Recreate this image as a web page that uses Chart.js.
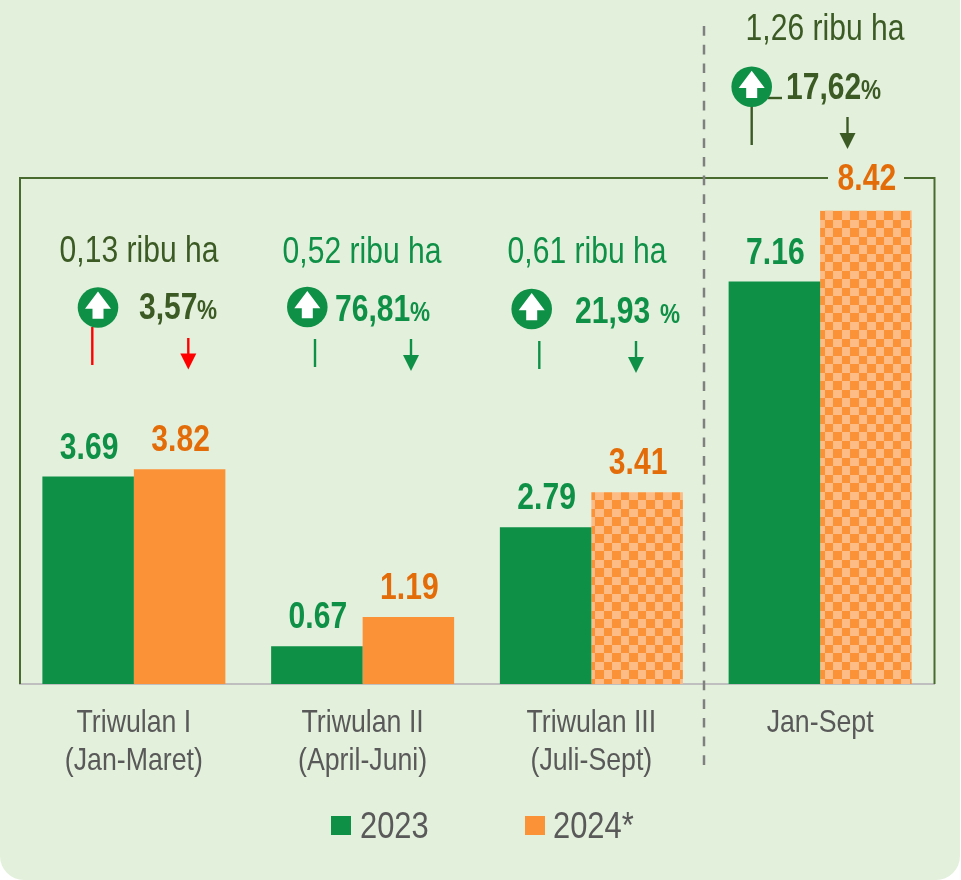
<!DOCTYPE html>
<html>
<head>
<meta charset="utf-8">
<style>
html,body{margin:0;padding:0;background:#fff}
#panel{position:relative;width:960px;height:880px;background:#E3F0DC;border-radius:0 0 24px 24px;overflow:hidden}
canvas{display:block}
</style>
<script src="https://cdn.jsdelivr.net/npm/chart.js@4/dist/chart.umd.min.js"></script>
</head>
<body>
<div id="panel"><canvas id="c" width="960" height="880"></canvas></div>
<script>
const categories = [['Triwulan I','(Jan-Maret)'],['Triwulan II','(April-Juni)'],['Triwulan III','(Juli-Sept)'],['Jan-Sept']];
const values2023 = [3.69, 0.67, 2.79, 7.16];
const values2024 = [3.82, 1.19, 3.41, 8.42];
const labels2023 = ['3.69','0.67','2.79','7.16'];
const labels2024 = ['3.82','1.19','3.41','8.42'];
const seriesNames = ['2023','2024*'];
const changeHa = ['0,13 ribu ha','0,52 ribu ha','0,61 ribu ha','1,26 ribu ha'];
const changePct = ['3,57','76,81','21,93','17,62'];

const FONT = '"Liberation Sans",Arial,sans-serif';
const SQUEEZE = 0.835; // the reference uses a narrow face; condense the installed one
const GREEN='#0F9047', ORANGE='#FB9238', ORANGE_LIGHT='#FDBB85', ORANGE_TEXT='#E36C09', DARK='#3B5A24', GRAY='#595959';

const canvas=document.getElementById('c');
const rawCtx=canvas.getContext('2d');
const nativeFillText=rawCtx.fillText.bind(rawCtx);
rawCtx.fillText=function(text,x,y){
  rawCtx.save();
  rawCtx.translate(x,y);
  rawCtx.scale(SQUEEZE,1);
  nativeFillText(text,0,0);
  rawCtx.restore();
};

function checker(){
  const t=document.createElement('canvas');t.width=17;t.height=17;
  const g=t.getContext('2d');
  g.fillStyle=ORANGE_LIGHT;g.fillRect(0,0,17,17);
  g.fillStyle=ORANGE;g.fillRect(0,0,9,9);g.fillRect(9,9,8,8);
  const p=rawCtx.createPattern(t,'repeat');
  p.setTransform(new DOMMatrix().translate(0,7));
  return p;
}
const pat=checker();

// layout of the callouts above each group
const callouts=[
 {color:DARK,  ha:[139,261.5], circle:[98,307.5],  stem:[92.3,327,365], arrow:[188.3,338,369.5], arrowColor:'#FF0000', stemColor:'#FF0000', num:[139,319], pct:[197,319]},
 {color:GREEN, ha:[362,262.5],circle:[307.3,307],stem:[315,339,367], arrow:[411,339,371], arrowColor:GREEN, stemColor:GREEN, num:[335,320.5], pct:[410,320.5]},
 {color:GREEN, ha:[587,262.5],circle:[531.7,309],stem:[539.3,341,369], arrow:[636,341,373], arrowColor:GREEN, stemColor:GREEN, num:[575,323], pct:[660,323]},
 {color:DARK,  ha:[825,40],  circle:[751.7,86.7],stem:[751.7,106,145], arrow:[847.5,117,149], arrowColor:DARK, stemColor:DARK, num:[786,99], pct:[861,99]}
];

const decor={
 id:'decor',
 beforeDatasetsDraw(chart){
  const c=chart.ctx,a=chart.chartArea;
  c.save();
  c.strokeStyle='#4A6B30';c.lineWidth=2;
  c.beginPath();c.moveTo(828,178);c.lineTo(20,178);c.lineTo(20,a.bottom);c.stroke();
  c.beginPath();c.moveTo(904,178);c.lineTo(934.5,178);c.lineTo(934.5,a.bottom);c.stroke();
  c.restore();
 },
 afterDatasetsDraw(chart){
  const c=chart.ctx;
  c.save();
  // dashed separator
  c.strokeStyle='#808080';c.lineWidth=2.5;c.setLineDash([9.7,9]);
  c.beginPath();c.moveTo(704,26);c.lineTo(704,766);c.stroke();c.setLineDash([]);
  // bar value labels
  c.textAlign='center';c.textBaseline='alphabetic';
  c.font='bold 36px '+FONT;
  chart.data.datasets.forEach((ds,d)=>{
    chart.getDatasetMeta(d).data.forEach((el,i)=>{
      c.fillStyle=ds.labelColor;
      c.fillText(ds.valueLabels[i],el.x+1,el.y-(d===1&&i===3?21:18));
    });
  });
  // callouts
  callouts.forEach((k,i)=>{
    c.textAlign='center';c.fillStyle=k.color;c.font='36px '+FONT;
    c.fillText(changeHa[i],k.ha[0],k.ha[1]);
    c.textAlign='left';c.font='bold 36px '+FONT;
    c.fillText(changePct[i],k.num[0],k.num[1]);
    c.font='bold 27px '+FONT;
    c.fillText('%',k.pct[0],k.pct[1]);
    const [cx,cy]=k.circle;
    c.strokeStyle=k.stemColor;c.lineWidth=2.4;
    c.beginPath();c.moveTo(k.stem[0],k.stem[1]);c.lineTo(k.stem[0],k.stem[2]);c.stroke();
    if(i===3){c.beginPath();c.moveTo(768,98);c.lineTo(782,98);c.stroke();}
    c.fillStyle=GREEN;c.beginPath();c.arc(cx,cy,20.3,0,Math.PI*2);c.fill();
    c.fillStyle='#fff';c.beginPath();
    c.moveTo(cx,cy-16);c.lineTo(cx+13,cy+1.3);c.lineTo(cx+5.5,cy+1.3);c.lineTo(cx+5.5,cy+11.3);
    c.lineTo(cx-5.5,cy+11.3);c.lineTo(cx-5.5,cy+1.3);c.lineTo(cx-13,cy+1.3);c.closePath();c.fill();
    const [ax,a0,a1]=k.arrow;
    c.strokeStyle=k.arrowColor;c.fillStyle=k.arrowColor;c.lineWidth=2.4;
    c.beginPath();c.moveTo(ax,a0);c.lineTo(ax,a1-15);c.stroke();
    c.beginPath();c.moveTo(ax-8,a1-16);c.lineTo(ax+8,a1-16);c.lineTo(ax,a1);c.closePath();c.fill();
  });
  // legend
  const lx=[[331,360],[525,553]];
  chart.data.datasets.forEach((ds,d)=>{
    c.fillStyle=ds.legendColor;c.fillRect(lx[d][0],816,20,19);
    c.fillStyle=GRAY;c.textAlign='left';c.font='37px '+FONT;
    c.fillText(ds.label,lx[d][1],838);
  });
  c.restore();
 }
};

new Chart(canvas,{
 type:'bar',
 data:{
  labels:categories,
  datasets:[
   {label:seriesNames[0],data:values2023,backgroundColor:GREEN,legendColor:GREEN,labelColor:GREEN,valueLabels:labels2023,borderWidth:0},
   {label:seriesNames[1],data:values2024,backgroundColor:[ORANGE,ORANGE,pat,pat],legendColor:ORANGE,labelColor:ORANGE_TEXT,valueLabels:labels2024,borderWidth:0}
  ]
 },
 options:{
  responsive:false,animation:false,
  layout:{padding:{left:19.5,right:25.5,top:0,bottom:0}},
  datasets:{bar:{categoryPercentage:0.8,barPercentage:1}},
  plugins:{legend:{display:false},tooltip:{enabled:false}},
  scales:{
   x:{
    grid:{display:false,drawTicks:false},
    border:{display:true,color:'#BFBFBF',width:2},
    ticks:{color:GRAY,font:{family:FONT,size:32,lineHeight:1.19},padding:20,maxRotation:0,autoSkip:false},
    afterFit(s){s.height=196;}
   },
   y:{display:false,min:0,max:12.17}
  }
 },
 plugins:[decor]
});
</script>
</body>
</html>
